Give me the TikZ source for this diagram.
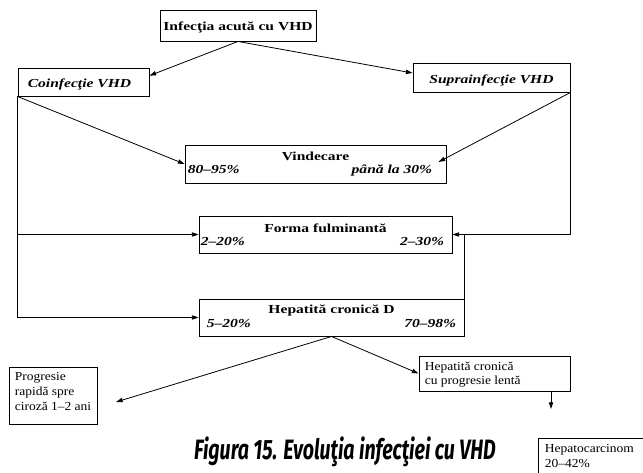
\documentclass[tikz,border=0pt]{standalone}
\usepackage{fontspec}
\setmainfont{Liberation Serif}[FakeStretch=1.27]
\newfontfamily\plainfont{Liberation Serif}[FakeStretch=1.1]
\newfontfamily\capfont{Fira Sans}[FakeStretch=0.7]
\usetikzlibrary{arrows.meta,calc}

\begin{document}
\begin{tikzpicture}[x=0.75pt,y=-0.75pt,
  box/.style={draw, line width=0.7pt, inner sep=0pt},
  conn/.style={line width=0.6pt},
  arr/.style={conn, -{Triangle[length=5pt,width=3.2pt]}},
  ttl/.style={font=\bfseries\fontsize{9.2}{10}\selectfont, inner sep=0pt},
  pct/.style={font=\bfseries\itshape\fontsize{9.2}{10}\selectfont, inner sep=0pt},
  txt/.style={font=\plainfont\fontsize{9.2}{11}\selectfont, align=left, inner sep=0pt},
  capt/.style={font=\capfont\bfseries\itshape\fontsize{21}{24}\selectfont, inner sep=0pt}]
\useasboundingbox (0,0) rectangle (643,473);
\clip (0,0) rectangle (643,473);

% boxes
\node[box, minimum width=156*0.75pt, minimum height=31*0.75pt] (inf) at (238,25.5) {};
\node[box, minimum width=131*0.75pt, minimum height=28*0.75pt] (coi) at (83.5,82) {};
\node[box, minimum width=157*0.75pt, minimum height=29*0.75pt] (sup) at (491.5,77.5) {};
\node[box, minimum width=261*0.75pt, minimum height=38*0.75pt] (vin) at (315.5,164) {};
\node[box, minimum width=253*0.75pt, minimum height=37*0.75pt] (ful) at (325.5,234.5) {};
\node[box, minimum width=265*0.75pt, minimum height=37*0.75pt] (hep) at (331.5,317.5) {};
\node[box, minimum width=88*0.75pt, minimum height=57*0.75pt] (pro) at (53,395.5) {};
\node[box, minimum width=151*0.75pt, minimum height=35*0.75pt] (len) at (494.5,373.5) {};
\node[box, minimum width=122*0.75pt, minimum height=52*0.75pt] (hcc) at (599,464) {};

% box texts
\node[ttl, anchor=base] (infT) at ($(inf.south)+(0,-11)$) {Infecţia acută cu VHD};
\node[pct, anchor=base west] (coiT) at ($(coi.south west)+(10,-9)$) {Coinfecţie VHD};
\node[pct, anchor=base] (supT) at ($(sup.south)+(0,-9)$) {Suprainfecţie VHD};

\node[ttl, anchor=base] (vinT) at ($(vin.north)+(0,16)$) {Vindecare};
\node[pct, anchor=base west] (vinL) at ($(vin.south west)+(3,-10)$) {80–95\%};
\node[pct, anchor=base east] (vinR) at ($(vin.south east)+(-14,-10)$) {până la 30\%};

\node[ttl, anchor=base] (fulT) at ($(ful.north)+(0,17)$) {Forma fulminantă};
\node[pct, anchor=base west] (fulL) at ($(ful.south west)+(2,-8)$) {2–20\%};
\node[pct, anchor=base east] (fulR) at ($(ful.south east)+(-8,-8)$) {2–30\%};

\node[ttl, anchor=base] (hepT) at ($(hep.north)+(0,15)$) {Hepatită cronică D};
\node[pct, anchor=base west] (hepL) at ($(hep.south west)+(8,-9)$) {5–20\%};
\node[pct, anchor=base east] (hepR) at ($(hep.south east)+(-8,-9)$) {70–98\%};

\node[txt, anchor=north west] (proT) at ($(pro.north west)+(6,6)$) {Progresie\\rapidă spre\\ciroză 1–2 ani};
\node[txt, anchor=north west] (lenT) at ($(len.north west)+(6,6)$) {Hepatită cronică\\cu progresie lentă};
\node[txt, anchor=north west] (hccT) at ($(hcc.north west)+(7,7)$) {Hepatocarcinom\\20–42\%};

% caption
\node[capt, anchor=base] (cap) at (345,460) {Figura 15. Evoluţia infecţiei cu VHD};

% free ends of connectors
\coordinate (coiIn) at ($(coi.north east)!0.28!(coi.south east)$);
\coordinate (supIn) at ($(sup.north west)!0.35!(sup.south west)$);
\coordinate (vinIn) at ($(vin.east)+(-8,-2)$);
\coordinate (proIn) at (116,402);
\coordinate (hccIn) at (551,409);

% connectors
\draw[arr] (inf.south) -- (coiIn);
\draw[arr] (inf.south) -- (supIn);
\draw[arr] (coi.south west) -- (vin.west);
\draw[arr] (sup.south east) -- (vinIn);
\draw[arr] (sup.south east) |- (ful.east);
\draw[conn] (ful.east -| hep.north east) -- (hep.north east);
\draw[arr] (coi.south west) |- (hep.west);
\draw[arr] (coi.south west |- ful.west) -- (ful.west);
\draw[arr] (hep.south) -- (proIn);
\draw[arr] (hep.south) -- (len.west);
\draw[arr] (len.south -| hccIn) -- (hccIn);
\end{tikzpicture}
\end{document}
